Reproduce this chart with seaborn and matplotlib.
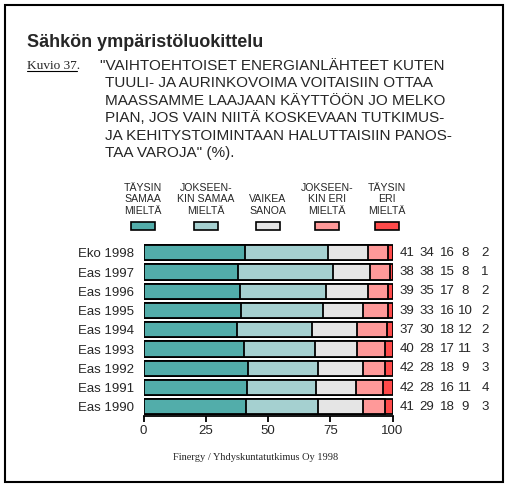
import numpy as np
import pandas as pd
import matplotlib
matplotlib.use("Agg")
import matplotlib.pyplot as plt
import seaborn as sns
from matplotlib.patches import Rectangle
from matplotlib.lines import Line2D

# data
surveys = ["Eko 1998", "Eas 1997", "Eas 1996", "Eas 1995", "Eas 1994",
           "Eas 1993", "Eas 1992", "Eas 1991", "Eas 1990"]
taysin_samaa = [41, 38, 39, 39, 37, 40, 42, 42, 41]
jokseenkin_samaa = [34, 38, 35, 33, 30, 28, 28, 28, 29]
vaikea_sanoa = [16, 15, 17, 16, 18, 17, 18, 16, 18]
jokseenkin_eri = [8, 8, 8, 10, 12, 11, 9, 11, 9]
taysin_eri = [2, 1, 2, 2, 2, 3, 3, 4, 3]

categories = ["TÄYSIN\nSAMAA\nMIELTÄ", "JOKSEEN-\nKIN SAMAA\nMIELTÄ",
              "VAIKEA\nSANOA", "JOKSEEN-\nKIN ERI\nMIELTÄ", "TÄYSIN\nERI\nMIELTÄ"]
colors = ["#52ADAA", "#A5D0D0", "#E5E5E5", "#FF9999", "#FF4A4A"]

title = "Sähkön ympäristöluokittelu"
quote = ['"VAIHTOEHTOISET ENERGIANLÄHTEET KUTEN',
         "TUULI- JA AURINKOVOIMA VOITAISIIN OTTAA",
         "MAASSAMME LAAJAAN KÄYTTÖÖN JO MELKO",
         "PIAN, JOS VAIN NIITÄ KOSKEVAAN TUTKIMUS-",
         "JA KEHITYSTOIMINTAAN HALUTTAISIIN PANOS-",
         'TAA VAROJA" (%).']
source = "Finergy / Yhdyskuntatutkimus Oy 1998"

sns.set_theme(style="white")
plt.rcParams["font.family"] = ["Liberation Sans", "DejaVu Sans"]

W, H = 508, 488
fig = plt.figure(figsize=(W / 100, H / 100), dpi=100)

def fx(px):
    return px / W

def fy(py):
    return 1 - py / H

# outer frame
fig.patches.append(Rectangle((fx(5), fy(482)), fx(498), 477 / H, transform=fig.transFigure,
                             fill=False, edgecolor="black", linewidth=1.5))

fig.text(fx(27), fy(47), title, fontsize=13, fontweight="bold", ha="left", va="baseline")
fig.text(fx(27), fy(69), "Kuvio 37.", fontsize=9.5, family="Liberation Serif",
         ha="left", va="baseline")
fig.lines.append(Line2D([fx(27), fx(77)], [fy(71), fy(71)], transform=fig.transFigure,
                        color="black", linewidth=0.8))
for i, line in enumerate(quote):
    x0 = 100 if i == 0 else 105
    fig.text(fx(x0), fy(70 + i * 17.4), line, fontsize=11, ha="left", va="baseline")

# data table, normalised to 100 %
df = pd.DataFrame({"survey": surveys, "c1": taysin_samaa, "c2": jokseenkin_samaa,
                   "c3": vaikea_sanoa, "c4": jokseenkin_eri, "c5": taysin_eri})
cols = ["c1", "c2", "c3", "c4", "c5"]
shares = df[cols].div(df[cols].sum(axis=1), axis=0) * 100
cum = shares.cumsum(axis=1)

ax = fig.add_axes([fx(143.5), fy(416.4), 249 / W, 173.25 / H])
for k in range(len(cols) - 1, -1, -1):
    sns.barplot(x=cum[cols[k]].values, y=df["survey"], orient="h", ax=ax,
                color=colors[k], saturation=1, edgecolor="black", linewidth=1.3,
                width=0.8, order=surveys)

ax.set_xlim(0, 100)
ax.set_ylim(len(surveys) - 0.5, -0.5)
ax.set_xticks([0, 25, 50, 75, 100])
ax.set_xlabel("")
ax.set_ylabel("")
sns.despine(ax=ax, top=True, right=True, left=True)
ax.spines["bottom"].set_color("black")
ax.spines["bottom"].set_linewidth(1.3)
ax.tick_params(axis="x", bottom=True, length=4, width=1.3, color="black",
               labelsize=9.5, pad=2)
ax.tick_params(axis="y", left=False, length=0, labelsize=9.5, pad=7)

# value columns to the right of the bars
col_x = [105.8, 113.9, 121.9, 129.1, 137.1]
for r in range(len(surveys)):
    for k, c in enumerate(cols):
        ax.text(col_x[k], r, str(df.loc[r, c]), ha="center", va="center",
                fontsize=9.5, clip_on=False)

# legend above the chart
leg_x = [143, 206, 268, 327, 387]
for k in range(len(categories)):
    fig.patches.append(Rectangle((fx(leg_x[k] - 12), fy(230)), 24 / W, 8 / H,
                                 transform=fig.transFigure, facecolor=colors[k],
                                 edgecolor="black", linewidth=1.2))
    fig.text(fx(leg_x[k]), fy(216), categories[k], fontsize=7.6, ha="center",
             va="bottom", linespacing=1.2, multialignment="center")

fig.text(fx(256), fy(460), source, fontsize=7.5, family="Liberation Serif",
         ha="center", va="baseline")

fig.savefig("out.png", dpi=100, facecolor="white")
